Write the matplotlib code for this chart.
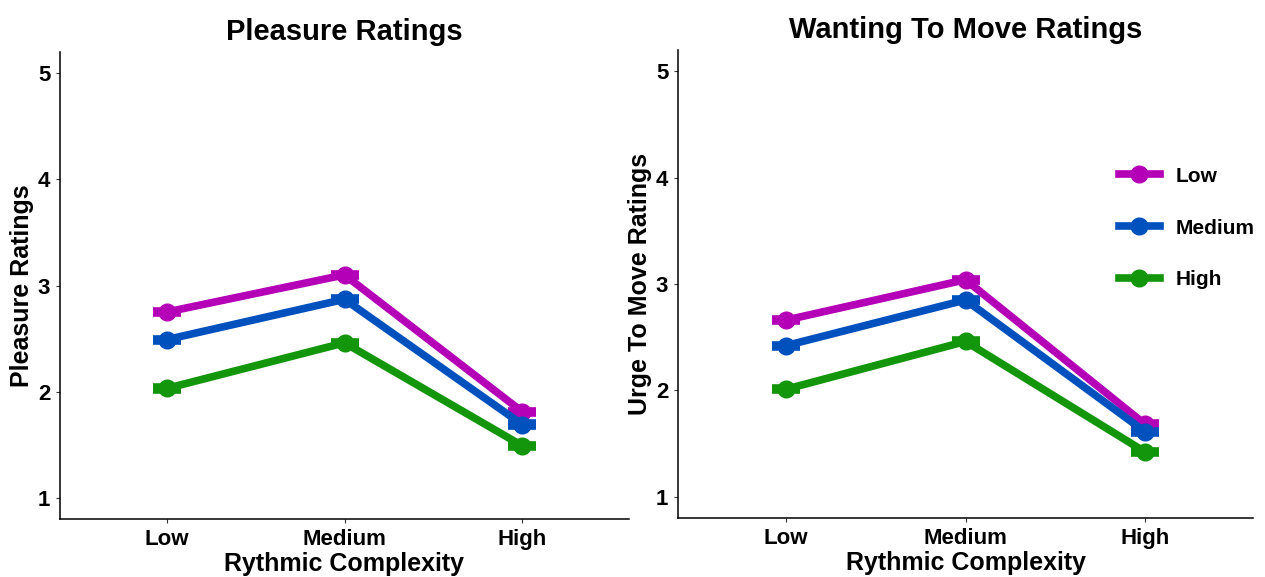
import matplotlib
matplotlib.use("Agg")
import matplotlib.pyplot as plt
from matplotlib.lines import Line2D

plt.rcParams['font.family'] = ['Liberation Sans', 'DejaVu Sans']
plt.rcParams['font.weight'] = 'bold'

categories = ["Low", "Medium", "High"]
groups = ["Low", "Medium", "High"]
colors = ["#B400B6", "#0050BE", "#13960C"]

pleasure_low = [2.75, 3.10, 1.81]
pleasure_medium = [2.49, 2.87, 1.69]
pleasure_high = [2.03, 2.46, 1.49]

move_low = [2.66, 3.04, 1.68]
move_medium = [2.42, 2.85, 1.61]
move_high = [2.01, 2.46, 1.42]

se = 0.01

fig = plt.figure(figsize=(12.65, 5.77), dpi=100)
W, H = 1265, 577
axL = fig.add_axes([60 / W, 1 - 519 / H, (629 - 60) / W, (519 - 52) / H])
axR = fig.add_axes([678 / W, 1 - 518 / H, (1253 - 678) / W, (518 - 50) / H])

panels = [
    (axL, [pleasure_low, pleasure_medium, pleasure_high], "Pleasure Ratings", "Pleasure Ratings"),
    (axR, [move_low, move_medium, move_high], "Wanting To Move Ratings", "Urge To Move Ratings"),
]

x = list(range(1, len(categories) + 1))
for ax, series, title, ylabel in panels:
    for vals, col in zip(series, colors):
        ax.errorbar(x, vals, yerr=se, color=col, lw=5.5, marker='o', ms=12,
                    capsize=10, capthick=5.5, elinewidth=5.5, solid_capstyle='butt')
    ax.set_xlim(0.4, 3.6)
    ax.set_ylim(0.8, 5.2)
    ax.set_xticks(x)
    ax.set_xticklabels(categories)
    ax.set_yticks([1, 2, 3, 4, 5])
    ax.tick_params(labelsize=16, length=3, width=0.8, color='#333333', pad=4)
    for lab in ax.get_xticklabels() + ax.get_yticklabels():
        lab.set_fontweight('bold')
        lab.set_color('black')
    for s in ['top', 'right']:
        ax.spines[s].set_visible(False)
    for s in ['left', 'bottom']:
        ax.spines[s].set_linewidth(1.1)
        ax.spines[s].set_color('black')
    ax.set_xlabel("Rythmic Complexity", fontsize=18, fontweight='bold', labelpad=1.5)
    ax.set_ylabel(ylabel, fontsize=18, fontweight='bold', labelpad=3)
    ax.set_title(title, fontsize=21, fontweight='bold', pad=9)

handles = [Line2D([0], [0], color=c, lw=5.5, marker='o', ms=12) for c in colors]
leg = fig.legend(handles, groups, loc='center left', bbox_to_anchor=(1119 / W, 1 - 228 / H),
                 frameon=False, fontsize=15, handlelength=1.95, labelspacing=1.58,
                 handletextpad=0.75, borderaxespad=0, borderpad=0)
for t in leg.get_texts():
    t.set_fontweight('bold')

fig.savefig("out.png", dpi=100)
